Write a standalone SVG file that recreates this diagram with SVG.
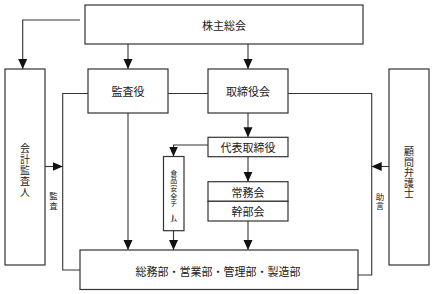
<svg xmlns="http://www.w3.org/2000/svg" width="433" height="294" viewBox="0 0 433 294">
<defs>
<marker id="arr" markerUnits="userSpaceOnUse" markerWidth="10" markerHeight="10" viewBox="0 0 10 10" refX="10" refY="5" orient="auto">
<path d="M0,0.5 L10,5 L0,9.5 Z" fill="#111"/>
</marker>
</defs>
<style>
.box{fill:#fff;stroke:#333;stroke-width:1.2}
.ln{fill:none;stroke:#333;stroke-width:1.1}
.t{font-family:"Noto Sans CJK JP","Noto Sans CJK SC",sans-serif;font-size:11px;fill:#222;text-anchor:middle;dominant-baseline:central}
.vt{font-size:10px}
.sm{font-size:8.5px}
</style>
<rect width="433" height="294" fill="#fff"/>
<g id="connectors">
<path class="ln" d="M80,20 H22.7 V69" marker-end="url(#arr)"/>
<path class="ln" d="M128,44 V69" marker-end="url(#arr)"/>
<path class="ln" d="M248,44 V69" marker-end="url(#arr)"/>
<path class="ln" d="M168,93.5 H208"/>
<path class="ln" d="M88,93.5 H62.7 V270 H80"/>
<path class="ln" d="M45,166.5 H62.7" marker-end="url(#arr)"/>
<path class="ln" d="M288,93.5 H371.7 V275 H358"/>
<path class="ln" d="M389,166.5 H371.7" marker-end="url(#arr)"/>
<path class="ln" d="M248,113 V137.3" marker-end="url(#arr)"/>
<path class="ln" d="M208,145 H173.5 V156.5" marker-end="url(#arr)"/>
<path class="ln" d="M248,156.7 V181.7" marker-end="url(#arr)"/>
<path class="ln" d="M248,221 V250" marker-end="url(#arr)"/>
<path class="ln" d="M128,113 V250" marker-end="url(#arr)"/>
<path class="ln" d="M173.5,230.7 V250" marker-end="url(#arr)"/>
</g>
<g id="kabunushi">
<rect class="box" x="85" y="5" width="278" height="39"/>
<text class="t" x="224" y="24.5">株主総会</text>
</g>
<g id="kaikei">
<rect class="box" x="5" y="69" width="40" height="196"/>
<text class="t vt" x="25 25 25 25 25" y="147.2 158.2 169.2 180.2 191.2">会計監査人</text>
</g>
<g id="kansayaku">
<rect class="box" x="88" y="69" width="80" height="44"/>
<text class="t" x="128" y="91">監査役</text>
</g>
<g id="torishimariyakukai">
<rect class="box" x="208" y="69" width="80" height="44"/>
<text class="t" x="248" y="91">取締役会</text>
</g>
<g id="komon">
<rect class="box" x="389" y="69" width="40" height="196"/>
<text class="t vt" x="409 409 409 409 409" y="150.5 161 171.5 182 192.5">顧問弁護士</text>
</g>
<g id="daihyo">
<rect class="box" x="208" y="137.3" width="80" height="19.4"/>
<text class="t" x="248" y="147">代表取締役</text>
</g>
<g id="shokuhin">
<rect class="box" x="163.5" y="156.5" width="20.5" height="74.2"/>
<text class="t" style="font-size:7px" x="173.7 173.7 173.7 173.7 173.7 173.7 173.7" y="172.8 180.4 188 195.6 203.2 210.8 218.4" rotate="0 0 0 0 0 90 0">食品安全チーム</text>
</g>
<g id="jomukai">
<rect class="box" x="208" y="181.7" width="80" height="19.6"/>
<text class="t" x="248" y="191.5">常務会</text>
</g>
<g id="kanbukai">
<rect class="box" x="208" y="201.3" width="80" height="19.7"/>
<text class="t" x="248" y="211">幹部会</text>
</g>
<g id="bumon">
<rect class="box" x="80" y="250" width="278" height="39.5"/>
<text class="t" x="218" y="271">総務部・営業部・管理部・製造部</text>
</g>
<g id="labels">
<text class="t sm" x="53.5 53.5" y="195 204.5">監査</text>
<text class="t sm" x="380 380" y="195.5 205">助言</text>
</g>
</svg>
